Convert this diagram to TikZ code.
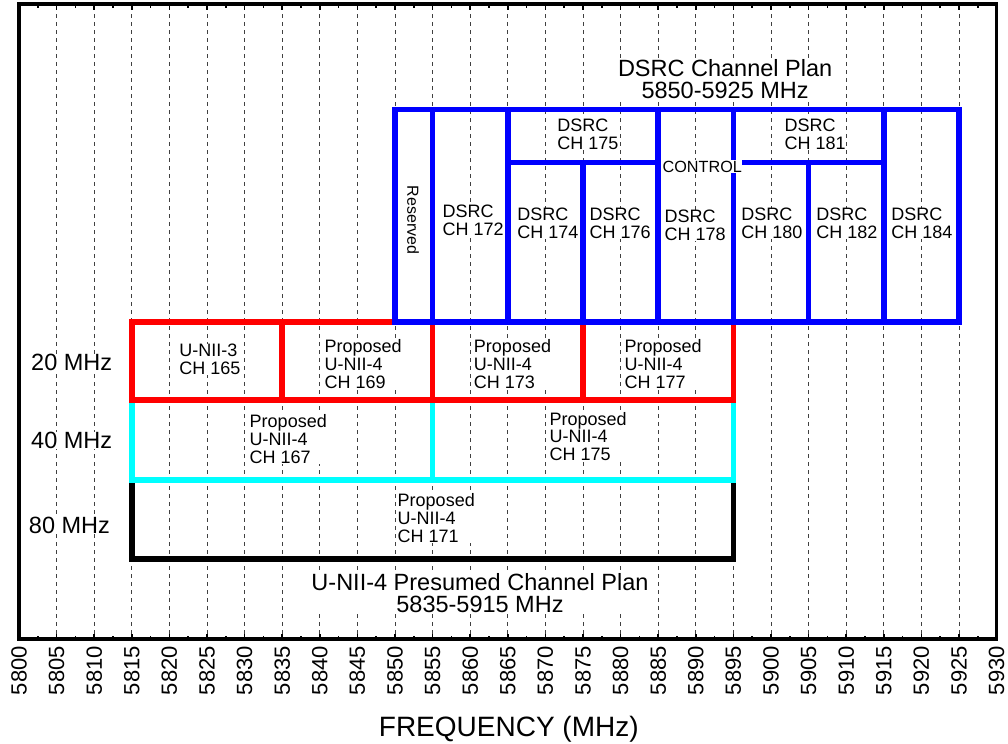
\documentclass[tikz,border=0pt]{standalone}
\usepackage{fontspec}
\setmainfont{Liberation Sans}
\definecolor{boxcyan}{RGB}{0,255,255}
\definecolor{boxblue}{RGB}{0,0,255}
\definecolor{boxred}{RGB}{255,0,0}
\begin{document}
\begin{tikzpicture}[x=7.52pt,y=-1pt,
  gridline/.style={draw=black!75,line width=0.9pt,dash pattern=on 4pt off 4pt},
  tickmark/.style={draw=black,line width=1.6pt},
  frame/.style={draw=black,line width=3.5pt},
  chbox/.style={line width=5.5pt,line join=miter},
  lbl/.style={font=\fontsize{18}{17.7}\selectfont,align=left,anchor=north west,fill=white,inner sep=0.5pt},
  side/.style={font=\fontsize{23.5}{23.5}\selectfont,anchor=base west,fill=white,inner sep=0pt},
  title/.style={font=\fontsize{23.5}{22}\selectfont,align=center,anchor=north,fill=white,inner sep=0.5pt},
  ticklbl/.style={rotate=90,anchor=east,inner sep=0pt,font=\fontsize{22}{22}\selectfont}]
\useasboundingbox (-2.5266,0) rectangle (131.516,744);
% grid
\foreach \f in {5,10,...,125} \draw[gridline] (\f,6) -- (\f,637);
% ticks
\foreach \f in {0,5,...,130} {\draw[tickmark] (\f,639) -- (\f,633.5); \draw[tickmark] (\f,4) -- (\f,9.5);}
\foreach \f in {2.5,7.5,...,127.5} {\draw[tickmark] (\f,639) -- (\f,635.5); \draw[tickmark] (\f,4) -- (\f,7.5);}
% tick labels
\foreach \i in {0,...,26} {\pgfmathtruncatemacro\lab{5800+5*\i}
  \node[ticklbl] (t\i) at (5*\i,646) {\lab};}
% 80 MHz
\draw[chbox,black] (15,480) rectangle (95,559);
% 40 MHz
\draw[chbox,boxcyan] (15,400) rectangle (95,480);
\draw[chbox,boxcyan] (55,400) -- (55,480);
% 20 MHz
\draw[chbox,boxred] (15,322) rectangle (95,400);
\foreach \f in {35,55,75} \draw[chbox,boxred] (\f,322) -- (\f,400);
% DSRC
\draw[chbox,boxblue] (50,109.5) rectangle (125,322);
\foreach \f in {55,65,85,95,115} \draw[chbox,boxblue] (\f,109.5) -- (\f,322);
\foreach \f in {75,105} \draw[chbox,boxblue] (\f,162.5) -- (\f,322);
\draw[chbox,boxblue] (65,162.5) -- (85,162.5);
\draw[chbox,boxblue] (95,162.5) -- (115,162.5);
% DSRC labels
\node[lbl] (c172) at (56.25,204.4) {DSRC\\CH 172};
\node[lbl] (c175) at (71.5,118.1) {DSRC\\CH 175};
\node[lbl] (c174) at (66.18,207.4) {DSRC\\CH 174};
\node[lbl] (c176) at (75.8,207.4) {DSRC\\CH 176};
\node[lbl] (c178) at (85.77,209.7) {DSRC\\CH 178};
\node[lbl] (c180) at (95.97,207.4) {DSRC\\CH 180};
\node[lbl] (c182) at (105.94,207.4) {DSRC\\CH 182};
\node[lbl] (c184) at (115.92,207.4) {DSRC\\CH 184};
\node[lbl] (c181) at (101.73,118.1) {DSRC\\CH 181};
\node[lbl,font=\fontsize{16.2}{16.2}\selectfont] (ctrl) at (85.5,160) {CONTROL};
\node[fill=white,inner sep=0.5pt,rotate=-90,font=\fontsize{16}{16}\selectfont] (res) at (52.39,220) {Reserved};
% U-NII labels
\node[lbl] (u165) at (21.24,343.7) {U-NII-3\\CH 165};
\node[lbl] (u169) at (40.56,339.1) {Proposed\\U-NII-4\\CH 169};
\node[lbl] (u173) at (60.41,339.1) {Proposed\\U-NII-4\\CH 173};
\node[lbl] (u177) at (80.45,339.1) {Proposed\\U-NII-4\\CH 177};
\node[lbl] (u167) at (30.59,414.1) {Proposed\\U-NII-4\\CH 167};
\node[lbl] (u175) at (70.48,411.4) {Proposed\\U-NII-4\\CH 175};
\node[lbl] (u171) at (50.27,493.1) {Proposed\\U-NII-4\\CH 171};
% side labels
\node[side] (w20) at (1.6,370) {20 MHz};
\node[side] (w40) at (1.6,448.3) {40 MHz};
\node[side] (w80) at (1.3,533.3) {80 MHz};
% titles
\node[title] (dsrct) at (93.9,58.4) {DSRC Channel Plan\\5850-5925 MHz};
\node[title] (uniit) at (61.3,573.1) {U-NII-4 Presumed Channel Plan\\5835-5915 MHz};
\node[font=\fontsize{28}{28}\selectfont,anchor=base,inner sep=0pt] (xlab) at (65.13,736.7) {FREQUENCY (MHz)};
% frame
\draw[frame] (0,4) rectangle (130,639);
\end{tikzpicture}
\end{document}
